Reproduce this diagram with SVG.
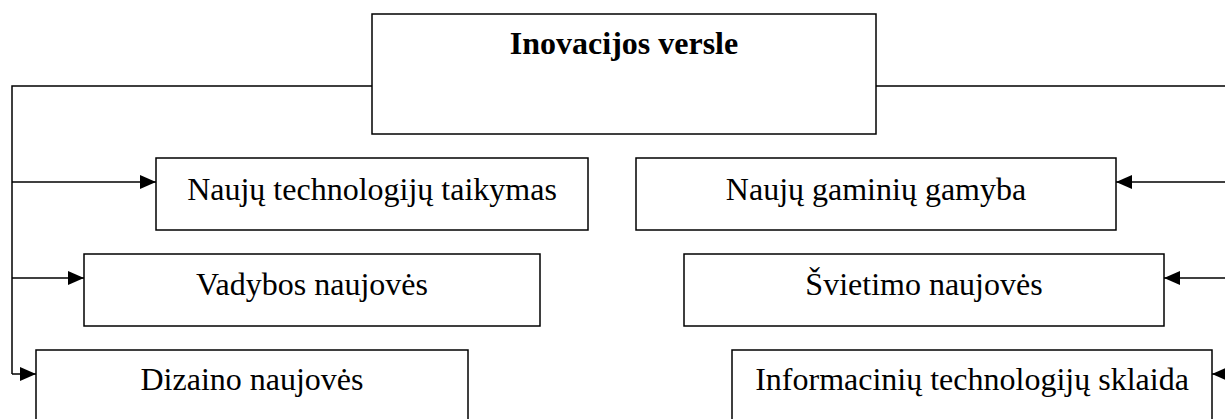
<svg xmlns="http://www.w3.org/2000/svg" width="1225" height="419" viewBox="0 0 1225 419">
<style>
.box{fill:#fff;stroke:#000;stroke-width:1.5}
.lbl{font-family:"Liberation Serif","Times New Roman",serif;font-size:32px;fill:#000;text-anchor:middle}
.ttl{font-weight:bold}
.con{fill:none;stroke:#000;stroke-width:1.5}
</style>
<defs>
<marker id="arr" markerUnits="userSpaceOnUse" markerWidth="16" markerHeight="14" refX="16" refY="7" orient="auto" viewBox="0 0 16 14">
<path d="M0,0 L16,7 L0,14 Z" fill="#000"/>
</marker>
</defs>
<rect width="1225" height="419" fill="#fff"/>
<g id="connectors">
<path class="con" d="M372,86 H12 V374"/>
<path class="con" d="M12,182 H156" marker-end="url(#arr)"/>
<path class="con" d="M12,278 H84" marker-end="url(#arr)"/>
<path class="con" d="M12,374 H36" marker-end="url(#arr)"/>
<path class="con" d="M876,86 H1230 V380"/>
<path class="con" d="M1230,182 H1116" marker-end="url(#arr)"/>
<path class="con" d="M1230,278 H1164" marker-end="url(#arr)"/>
<path class="con" d="M1230,374 H1212" marker-end="url(#arr)"/>
</g>
<g id="root">
<rect class="box" x="372" y="14" width="504" height="120"/>
<text class="lbl ttl" x="624" y="54">Inovacijos versle</text>
</g>
<g id="tech">
<rect class="box" x="156" y="158" width="432" height="72"/>
<text class="lbl" x="372" y="200">Naujų technologijų taikymas</text>
</g>
<g id="vadyba">
<rect class="box" x="84" y="254" width="456" height="72"/>
<text class="lbl" x="312" y="295">Vadybos naujovės</text>
</g>
<g id="dizainas">
<rect class="box" x="36" y="350" width="432" height="80"/>
<text class="lbl" x="252" y="390">Dizaino naujovės</text>
</g>
<g id="gaminiai">
<rect class="box" x="636" y="158" width="480" height="72"/>
<text class="lbl" x="876" y="200">Naujų gaminių gamyba</text>
</g>
<g id="svietimas">
<rect class="box" x="684" y="254" width="480" height="72"/>
<text class="lbl" x="924" y="295">Švietimo naujovės</text>
</g>
<g id="it">
<rect class="box" x="732" y="350" width="480" height="80"/>
<text class="lbl" x="972" y="390">Informacinių technologijų sklaida</text>
</g>
</svg>
